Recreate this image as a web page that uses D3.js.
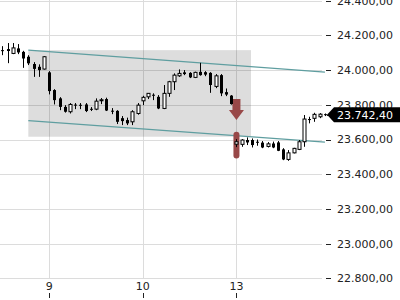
<!DOCTYPE html>
<html>
<head>
<meta charset="utf-8">
<script src="https://cdn.jsdelivr.net/npm/d3@7"></script>
<style>
  body { margin: 0; background: #fff; }
  svg { display: block; font-family: "DejaVu Sans", sans-serif; }
</style>
</head>
<body>
<script>
'use strict';

// candle values, one per bar (index 0..62)
const open  = [24115,24121,24096,24125,24105,24077,24035,24019,24006,23987,23885,23837,23788,23760,23801,23800,23802,23777,23775,23824,23833,23766,23765,23723,23712,23702,23750,23823,23846,23858,23846,23779,23866,23933,23967,23987,23984,23958,23990,23988,23984,23906,23971,23873,23853,23573,23572,23597,23597,23587,23582,23560,23577,23583,23543,23485,23523,23543,23587,23718,23722,23731,23746];
const high  = [24138,24156,24156,24150,24111,24086,24046,24033,24081,23994,23890,23844,23798,23810,23810,23810,23810,23787,23837,23839,23841,23781,23769,23735,23726,23769,23810,23852,23867,23866,23856,23914,23938,23981,24004,24000,23988,23991,24042,23994,23988,23977,23977,23894,23856,23602,23602,23612,23606,23600,23591,23585,23588,23591,23550,23539,23552,23597,23741,23731,23754,23752,23750];
const low   = [24086,24040,24092,24092,24013,24029,23961,23961,24003,23860,23802,23769,23755,23750,23775,23775,23758,23764,23769,23804,23764,23746,23689,23683,23683,23683,23743,23798,23833,23827,23775,23775,23846,23885,23961,23971,23954,23954,23968,23965,23869,23896,23850,23850,23801,23556,23558,23568,23554,23564,23550,23554,23550,23533,23481,23477,23520,23539,23558,23693,23702,23723,23735];
const close = [24110,24110,24128,24102,24067,24039,24007,24000,24077,23879,23827,23788,23760,23802,23797,23796,23764,23773,23821,23829,23767,23762,23702,23706,23693,23760,23798,23843,23866,23853,23779,23866,23933,23971,23981,23977,23958,23987,23971,23974,23914,23967,23866,23859,23804,23587,23597,23583,23568,23583,23554,23575,23554,23535,23485,23523,23549,23587,23718,23712,23745,23746,23742.4];

const dayIndex = [9, 27, 45];
const dayLabels = ["9", "10", "13"];
const yTicks = [22800, 23000, 23200, 23400, 23600, 23800, 24000, 24200, 24400];

// trend channel (bar index -> value)
const channelIdx = [5, 62];
const upperVals = [24115, 23988];
const lowerVals = [23709, 23585];
const zoneEnd = 47.8;

// gap marker
const arrowIdx = 45;
const arrowVals = [23833, 23712];
const gapBarVals = [23644, 23491];
const lastPrice = 23742.4;

(function() {
  let svgContainer = "";
  const de = d3.formatLocale({decimal: ",", thousands: ".", grouping: [3], currency: ["", ""]});
  const fmt = de.format(",.2f");

  window.onload = function() {
    svgContainer = d3.select('body')
      .append('svg')
      .attr('width', 400)
      .attr('height', 300);

    let xScale = d3.scaleLinear().domain([0, 62]).range([2.3, 324.9]);
    let yScale = d3.scaleLinear().domain([22800, 24400]).range([278.3, 0.7]);

    drawGrid(xScale, yScale);
    drawChannel(xScale, yScale);
    drawGap(xScale, yScale);
    plotCandles(xScale, yScale);
    drawAxes(xScale, yScale);
    drawPriceTag(xScale, yScale);
  };

  function drawGrid(x, y) {
    svgContainer.append('g').selectAll('line')
      .data(yTicks)
      .enter()
      .append('line')
        .attr('x1', 0)
        .attr('x2', 322)
        .attr('y1', d => Math.round(y(d)) + 0.5)
        .attr('y2', d => Math.round(y(d)) + 0.5)
        .attr('stroke', '#dcdcdc');

    svgContainer.append('g').selectAll('line')
      .data(dayIndex)
      .enter()
      .append('line')
        .attr('x1', d => Math.round(x(d)) + 0.5)
        .attr('x2', d => Math.round(x(d)) + 0.5)
        .attr('y1', 0)
        .attr('y2', 279)
        .attr('stroke', '#dcdcdc');
  }

  function drawChannel(x, y) {
    let upper = d3.scaleLinear().domain(channelIdx).range(upperVals);
    let lower = d3.scaleLinear().domain(channelIdx).range(lowerVals);

    svgContainer.append('rect')
      .attr('x', x(channelIdx[0]))
      .attr('y', y(upper(channelIdx[0])))
      .attr('width', x(zoneEnd) - x(channelIdx[0]))
      .attr('height', y(lower(zoneEnd)) - y(upper(channelIdx[0])))
      .attr('fill', 'rgba(0,0,0,0.135)');

    [upper, lower].forEach(f => {
      svgContainer.append('line')
        .attr('x1', x(channelIdx[0]))
        .attr('x2', x(channelIdx[1]))
        .attr('y1', y(f(channelIdx[0])))
        .attr('y2', y(f(channelIdx[1])))
        .attr('stroke', '#5f9ea0')
        .attr('stroke-width', 1.3);
    });
  }

  function drawGap(x, y) {
    let cx = x(arrowIdx);
    let top = y(arrowVals[0]);
    let tip = y(arrowVals[1]);
    let neck = tip - 10;
    let pts = [
      [cx - 4, top], [cx + 4, top], [cx + 4, neck], [cx + 7.5, neck],
      [cx, tip], [cx - 7.5, neck], [cx - 4, neck]
    ];
    svgContainer.append('path')
      .attr('d', d3.line()(pts) + 'Z')
      .attr('fill', '#984848');

    svgContainer.append('rect')
      .attr('x', cx - 3)
      .attr('y', y(gapBarVals[0]))
      .attr('width', 6)
      .attr('height', y(gapBarVals[1]) - y(gapBarVals[0]))
      .attr('rx', 3)
      .attr('fill', '#984848');
  }

  function plotCandles(x, y) {
    let idx = d3.range(open.length);
    let g = svgContainer.append('g');

    g.selectAll('.wick')
      .data(idx)
      .enter()
      .append('line')
        .attr('x1', i => Math.round(x(i)) + 0.5)
        .attr('x2', i => Math.round(x(i)) + 0.5)
        .attr('y1', i => y(high[i]))
        .attr('y2', i => y(low[i]))
        .attr('stroke', '#000');

    g.selectAll('.body')
      .data(idx)
      .enter()
      .append('rect')
        .attr('x', i => Math.round(x(i)) - 1)
        .attr('y', i => y(Math.max(open[i], close[i])))
        .attr('width', 3)
        .attr('height', i => Math.max(1, Math.abs(y(open[i]) - y(close[i]))))
        .attr('fill', i => close[i] >= open[i] ? '#fff' : '#000')
        .attr('stroke', '#000')
        .attr('stroke-width', i => close[i] >= open[i] ? 1 : 0);
  }

  function drawAxes(x, y) {
    let yt = svgContainer.append('g');
    yt.selectAll('line')
      .data(yTicks)
      .enter()
      .append('line')
        .attr('x1', 326)
        .attr('x2', 331)
        .attr('y1', d => Math.round(y(d)) + 0.5)
        .attr('y2', d => Math.round(y(d)) + 0.5)
        .attr('stroke', '#222');
    yt.selectAll('text')
      .data(yTicks)
      .enter()
      .append('text')
        .attr('x', 337)
        .attr('y', d => y(d))
        .attr('dy', '0.36em')
        .style('font-size', '11px')
        .attr('fill', '#222')
        .text(d => fmt(d));

    let xt = svgContainer.append('g');
    xt.selectAll('text')
      .data(dayIndex)
      .enter()
      .append('text')
        .attr('x', d => x(d))
        .attr('y', 290)
        .attr('text-anchor', 'middle')
        .style('font-size', '11px')
        .attr('fill', '#222')
        .text((d, i) => dayLabels[i]);
    xt.selectAll('line')
      .data(dayIndex)
      .enter()
      .append('line')
        .attr('x1', d => Math.round(x(d)) + 0.5)
        .attr('x2', d => Math.round(x(d)) + 0.5)
        .attr('y1', 293)
        .attr('y2', 298)
        .attr('stroke', '#222');
  }

  // black tag with the last price
  function drawPriceTag(x, y) {
    let py = y(lastPrice);
    svgContainer.append('line')
      .attr('x1', x(62) + 3)
      .attr('x2', 327)
      .attr('y1', Math.round(py) + 0.5)
      .attr('y2', Math.round(py) + 0.5)
      .attr('stroke', '#000')
      .attr('stroke-dasharray', '1,1');

    let pts = [[327, py], [334, py - 7.5], [400, py - 7.5], [400, py + 7.5], [334, py + 7.5]];
    svgContainer.append('path')
      .attr('d', d3.line()(pts) + 'Z')
      .attr('fill', '#000');

    svgContainer.append('text')
      .attr('x', 337)
      .attr('y', py)
      .attr('dy', '0.36em')
      .style('font-size', '11px')
      .attr('fill', '#fff')
      .text(fmt(lastPrice));
  }
})();
</script>
</body>
</html>
